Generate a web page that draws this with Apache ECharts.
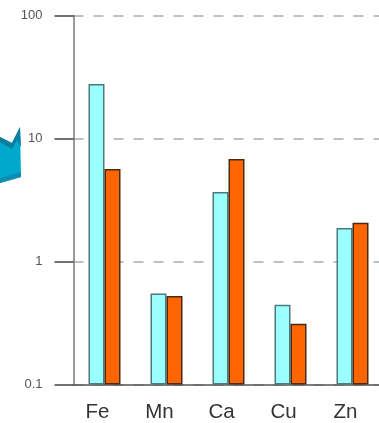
<!DOCTYPE html>
<html>
<head>
<meta charset="utf-8">
<style>
html, body { margin: 0; padding: 0; background: #fff; overflow: hidden; }
#chart { width: 379px; height: 423px; }
</style>
<script src="https://cdn.jsdelivr.net/npm/echarts@6/dist/echarts.min.js"></script>
</head>
<body>
<div id="chart"></div>
<script>
const categories = ['Fe', 'Mn', 'Ca', 'Cu', 'Zn'];
const cyanValues = [27.7, 0.55, 3.67, 0.445, 1.87];
const orangeValues = [5.65, 0.524, 6.8, 0.312, 2.07];

const chart = echarts.init(document.getElementById('chart'));

// 通用柱样式
function barSeries(data, color, edge) {
    return {
        type: 'bar',
        data: data,
        barWidth: 16,
        barGap: 0,
        itemStyle: { color: color, borderColor: edge, borderWidth: 1.5 }
    };
}

chart.setOption({
    animation: false,
    grid: { left: 73.5, width: 310, top: 15.5, bottom: 38.5, outerBoundsMode: 'none' },
    xAxis: {
        type: 'category',
        data: categories,
        axisLine: { onZero: false, lineStyle: { color: '#555', width: 1.5 } },
        axisTick: { show: false },
        axisLabel: {
            color: '#333',
            fontSize: 20.5,
            fontFamily: 'Liberation Sans',
            margin: 17,
            // 标签相对柱组整体偏左
            padding: [0, 14, 0, 0]
        }
    },
    yAxis: {
        type: 'log',
        logBase: 10,
        min: 0.1,
        max: 100,
        startValue: 0.1,
        axisLine: { show: true, lineStyle: { color: '#777', width: 1.5 } },
        axisTick: { show: true, length: 19, lineStyle: { color: '#444', width: 1.5 } },
        minorTick: { show: false },
        axisLabel: {
            color: '#555',
            fontSize: 13,
            fontFamily: 'Liberation Sans',
            margin: 31,
            formatter: function (v) { return String(+v.toPrecision(1)); }
        },
        splitLine: { show: true, lineStyle: { color: '#aaa', width: 1.5, type: [10, 10] } }
    },
    series: [
        barSeries(cyanValues, '#99ffff', '#4f7a7a'),
        barSeries(orangeValues, '#ff6600', '#4a2a10')
    ],
    graphic: [
        // 左侧被裁切的蓝色装饰
        {
            type: 'polygon',
            shape: { points: [[0, 137], [12, 143], [20, 127], [21, 177], [0, 183]] },
            style: { fill: '#00a8cc' }
        },
        {
            type: 'polygon',
            shape: { points: [[0, 137], [12, 143], [20, 127], [21, 147], [17, 140], [12, 149], [0, 142]] },
            style: { fill: '#0a7f9f' }
        },
        {
            type: 'polygon',
            shape: { points: [[0, 178], [21, 172], [21, 177], [0, 183]] },
            style: { fill: '#0a8fb0' }
        }
    ]
});
</script>
</body>
</html>
